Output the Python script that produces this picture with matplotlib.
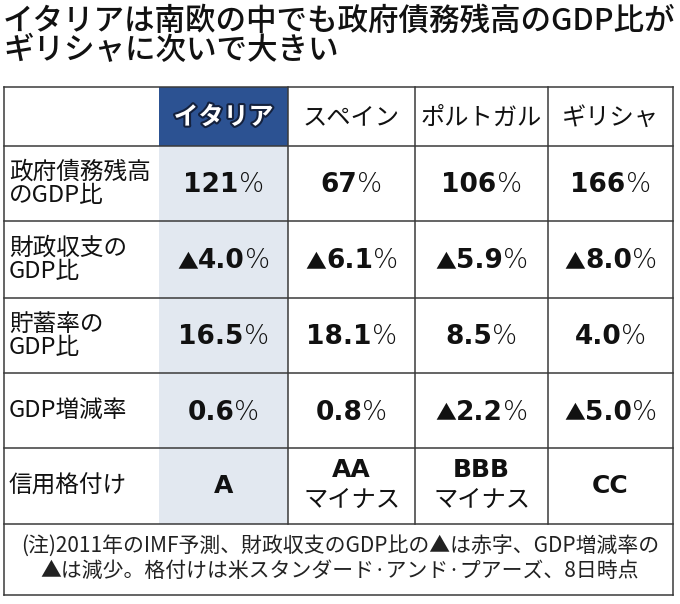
"""Table: Italy vs other southern European countries (debt, deficit, savings, growth, rating)."""

import matplotlib.pyplot as plt
import matplotlib.patheffects as pe
from matplotlib.offsetbox import AnnotationBbox, HPacker, TextArea

plt.rcParams["font.family"] = ["Noto Sans CJK JP", "DejaVu Sans"]

TITLE = ["イタリアは南欧の中でも政府債務残高のGDP比が", "ギリシャに次いで大きい"]
COUNTRIES = ["イタリア", "スペイン", "ポルトガル", "ギリシャ"]
ROW_LABELS = ["政府債務残高\nのGDP比", "財政収支の\nGDP比", "貯蓄率の\nGDP比", "GDP増減率", "信用格付け"]
DEBT = ["121", "67", "106", "166"]
FISCAL = ["▲4.0", "▲6.1", "▲5.9", "▲8.0"]
SAVINGS = ["16.5", "18.1", "8.5", "4.0"]
GROWTH = ["0.6", "0.8", "▲2.2", "▲5.0"]
RATING = ["A", "AA", "BBB", "CC"]
RATING_SUFFIX = ["", "マイナス", "マイナス", ""]
NOTE = [
    "(注)2011年のIMF予測、財政収支のGDP比の▲は赤字、GDP増減率の",
    "▲は減少。格付けは米スタンダード·アンド·プアーズ、8日時点",
]

# layout in pixels
COL_X = [4, 159, 288, 415, 548, 673]
ROW_Y = [87, 146, 221, 298, 373, 448, 524, 595]
LINE = "#3a3a3a"
BLUE = "#2c5292"
LIGHT = "#e2e8f0"
INK = "#111111"
NUM_FONT = ["DejaVu Sans"]


def main() -> None:
    fig = plt.figure(figsize=(6.8, 6.04), dpi=100)
    ax = fig.add_axes([0, 0, 1, 1])
    ax.set_xlim(0, 680)
    ax.set_ylim(604, 0)
    ax.axis("off")

    for i, line in enumerate(TITLE):
        ax.text(3, 21 + i * 30, line, fontsize=22, weight="medium", color=INK,
                ha="left", va="center")

    # backgrounds
    ax.add_patch(plt.Rectangle((COL_X[1], ROW_Y[0]), COL_X[2] - COL_X[1], ROW_Y[1] - ROW_Y[0],
                               color=BLUE, lw=0, zorder=1))
    ax.add_patch(plt.Rectangle((COL_X[1], ROW_Y[1]), COL_X[2] - COL_X[1], ROW_Y[6] - ROW_Y[1],
                               color=LIGHT, lw=0, zorder=1))

    # grid lines
    kw = dict(color=LINE, lw=1.1, zorder=3)
    for y in ROW_Y:
        ax.plot([COL_X[0], COL_X[-1]], [y, y], **kw)
    for x in COL_X:
        if x == COL_X[1]:
            continue
        bottom = ROW_Y[-1] if x in (COL_X[0], COL_X[-1]) else ROW_Y[6]
        ax.plot([x, x], [ROW_Y[0], bottom], **kw)

    centers = [(COL_X[i + 1] + COL_X[i + 2]) / 2 for i in range(4)]

    # header
    hy = (ROW_Y[0] + ROW_Y[1]) / 2 + 1
    for i, name in enumerate(COUNTRIES):
        if i == 0:
            ax.text(centers[i], hy, name, fontsize=18, weight="bold", color="white",
                    ha="center", va="center", zorder=4,
                    path_effects=[pe.withStroke(linewidth=3, foreground="#14213d")])
        else:
            ax.text(centers[i], hy, name, fontsize=17.5, color=INK,
                    ha="center", va="center", zorder=4)

    # row labels
    for r, label in enumerate(ROW_LABELS):
        cy = (ROW_Y[r + 1] + ROW_Y[r + 2]) / 2
        ax.text(9, cy, label, fontsize=17, color=INK, ha="left", va="center",
                linespacing=1.0, zorder=4)

    # numeric rows
    for r, values in enumerate([DEBT, FISCAL, SAVINGS, GROWTH]):
        cy = (ROW_Y[r + 1] + ROW_Y[r + 2]) / 2 + 2
        for i, value in enumerate(values):
            add_value(ax, centers[i], cy, value)

    # rating row
    cy = (ROW_Y[5] + ROW_Y[6]) / 2
    for i, rating in enumerate(RATING):
        if RATING_SUFFIX[i]:
            ax.text(centers[i], cy - 16, rating, fontsize=18, weight="bold", family=NUM_FONT,
                    ha="center", va="center", color=INK, zorder=4)
            ax.text(centers[i], cy + 14, RATING_SUFFIX[i], fontsize=17.5, color=INK,
                    ha="center", va="center", zorder=4)
        else:
            ax.text(centers[i], cy, rating, fontsize=18, weight="bold", family=NUM_FONT,
                    ha="center", va="center", color=INK, zorder=4)

    # note
    for i, line in enumerate(NOTE):
        ax.text(340, 547 + i * 24, line, fontsize=15, color="#222222",
                ha="center", va="center", zorder=4)

    fig.savefig("out.png", dpi=100)
    plt.close(fig)


def add_value(ax, x, y, value):
    """Bold number with a triangle sign and a light percent sign, centred in the cell."""
    parts = []
    if value.startswith("▲"):
        parts.append(TextArea("▲", textprops=dict(fontsize=15, family=["Noto Sans CJK JP"], color=INK)))
        value = value[1:]
    parts.append(TextArea(value, textprops=dict(fontsize=19, weight="bold", family=NUM_FONT, color=INK)))
    parts.append(TextArea("%", textprops=dict(fontsize=19, weight="light", family=NUM_FONT, color=INK)))
    box = HPacker(children=parts, pad=0, sep=0, align="baseline")
    ab = AnnotationBbox(box, (x, y), xycoords="data", frameon=False, box_alignment=(0.5, 0.5),
                        pad=0, zorder=4)
    ax.add_artist(ab)


if __name__ == "__main__":
    main()
